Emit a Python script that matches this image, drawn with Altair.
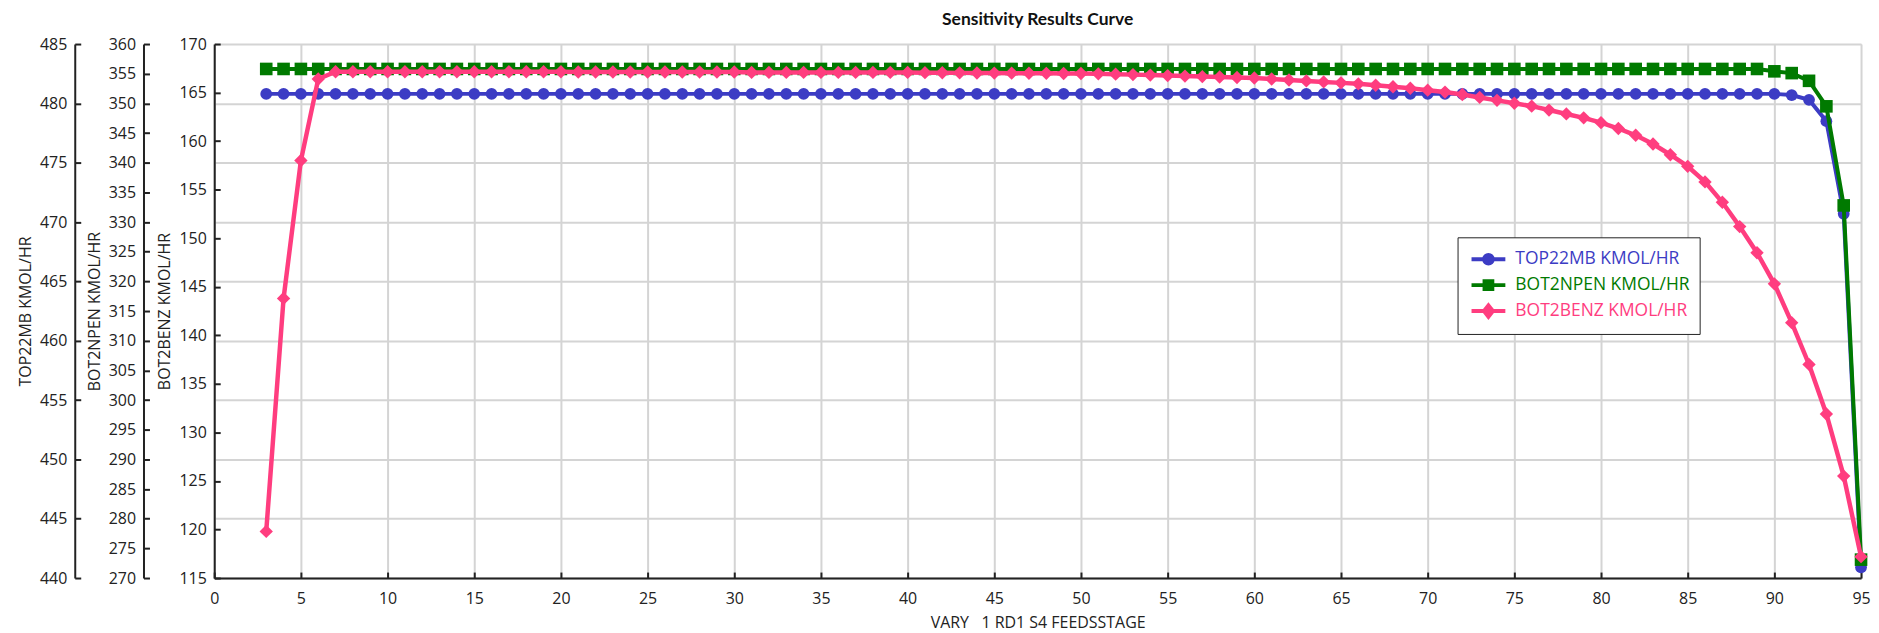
import altair as alt
import pandas as pd

# ---------------- data ----------------
stages = list(range(3, 96))

top22mb = [
    480.8, 480.8, 480.8, 480.8, 480.8, 480.8, 480.8, 480.8, 480.8, 480.8,   # 3-12
    480.8, 480.8, 480.8, 480.8, 480.8, 480.8, 480.8, 480.8, 480.8, 480.8,   # 13-22
    480.8, 480.8, 480.8, 480.8, 480.8, 480.8, 480.8, 480.8, 480.8, 480.8,   # 23-32
    480.8, 480.8, 480.8, 480.8, 480.8, 480.8, 480.8, 480.8, 480.8, 480.8,   # 33-42
    480.8, 480.8, 480.8, 480.8, 480.8, 480.8, 480.8, 480.8, 480.8, 480.8,   # 43-52
    480.8, 480.8, 480.8, 480.8, 480.8, 480.8, 480.8, 480.8, 480.8, 480.8,   # 53-62
    480.8, 480.8, 480.8, 480.8, 480.8, 480.8, 480.8, 480.8, 480.8, 480.8,   # 63-72
    480.8, 480.8, 480.8, 480.8, 480.8, 480.8, 480.8, 480.8, 480.8, 480.8,   # 73-82
    480.8, 480.8, 480.8, 480.8, 480.8, 480.8, 480.8, 480.8,                 # 83-90
    480.7, 480.3, 478.5, 470.7, 440.9,                                      # 91-95
]

bot2npen = [
    355.8, 355.8, 355.8, 355.8, 355.8, 355.8, 355.8, 355.8, 355.8, 355.8,   # 3-12
    355.8, 355.8, 355.8, 355.8, 355.8, 355.8, 355.8, 355.8, 355.8, 355.8,   # 13-22
    355.8, 355.8, 355.8, 355.8, 355.8, 355.8, 355.8, 355.8, 355.8, 355.8,   # 23-32
    355.8, 355.8, 355.8, 355.8, 355.8, 355.8, 355.8, 355.8, 355.8, 355.8,   # 33-42
    355.8, 355.8, 355.8, 355.8, 355.8, 355.8, 355.8, 355.8, 355.8, 355.8,   # 43-52
    355.8, 355.8, 355.8, 355.8, 355.8, 355.8, 355.8, 355.8, 355.8, 355.8,   # 53-62
    355.8, 355.8, 355.8, 355.8, 355.8, 355.8, 355.8, 355.8, 355.8, 355.8,   # 63-72
    355.8, 355.8, 355.8, 355.8, 355.8, 355.8, 355.8, 355.8, 355.8, 355.8,   # 73-82
    355.8, 355.8, 355.8, 355.8, 355.8, 355.8, 355.8,                        # 83-89
    355.4, 355.1, 353.8, 349.5, 332.8, 273.1,                               # 90-95
]

bot2benz = [
    119.8, 143.8, 158.0, 166.4,                                             # 3-6
    167.15, 167.15, 167.15, 167.15, 167.15, 167.15, 167.15,                 # 7-13
    167.15, 167.15, 167.15, 167.15, 167.15, 167.15, 167.15,                 # 14-20
    167.12, 167.12, 167.12, 167.12, 167.12, 167.12, 167.12, 167.12, 167.12, 167.12,  # 21-30
    167.08, 167.08, 167.08, 167.08, 167.08, 167.08, 167.08, 167.08, 167.08, 167.08,  # 31-40
    167.05, 167.04, 167.03, 167.02, 167.01, 167.00, 166.99, 166.98, 166.97,          # 41-49
    166.96, 166.93, 166.90, 166.85, 166.80, 166.75, 166.70, 166.65, 166.60, 166.55,  # 50-59
    166.50, 166.40, 166.30, 166.20, 166.10, 166.00, 165.90, 165.75, 165.60, 165.45,  # 60-69
    165.25, 165.05, 164.80, 164.50, 164.20, 163.90, 163.60, 163.20, 162.80, 162.40,  # 70-79
    161.90, 161.30, 160.60, 159.70, 158.60, 157.40, 155.80, 153.70, 151.20, 148.50,  # 80-89
    145.30, 141.30, 137.00, 131.90, 125.50, 117.20,                                  # 90-95
]

series_names = ["TOP22MB KMOL/HR", "BOT2NPEN KMOL/HR", "BOT2BENZ KMOL/HR"]
series_colors = ["#3c3cc4", "#007a00", "#ff3d7f"]
series_shapes = ["circle", "square", "diamond"]
# legend glyphs: a short line with the series marker on it (unit -1..1 box)
legend_glyphs = [
    "M-1.55,0H1.55M-0.39,0A0.39,0.39,0,1,1,0.39,0A0.39,0.39,0,1,1,-0.39,0Z",
    "M-1.55,0H1.55M-0.355,-0.355H0.355V0.355H-0.355Z",
    "M-1.55,0H1.55M0,-0.52L0.41,0L0,0.52L-0.41,0Z",
]

x_ticks = list(range(0, 100, 5))
top_ticks = list(range(440, 490, 5))
npen_ticks = list(range(270, 365, 5))
benz_ticks = list(range(115, 175, 5))

FONT = "Open Sans"
TXT = "#222222"

color_scale = alt.Scale(domain=series_names, range=series_colors)


def by_label(values):
    return (
        f"datum.label == '{series_names[0]}' ? '{values[0]}' : "
        f"datum.label == '{series_names[1]}' ? '{values[1]}' : '{values[2]}'"
    )


legend = alt.Legend(
    title=None,
    orient="none",
    legendX=1248,
    legendY=194,
    direction="vertical",
    strokeColor="#222222",
    fillColor="white",
    padding=9,
    labelFont=FONT,
    labelFontSize=17.5,
    labelLimit=0,
    labelColor=alt.ExprRef(by_label(series_colors)),
    symbolType=alt.ExprRef(by_label(legend_glyphs)),
    symbolStrokeColor=alt.ExprRef(by_label(series_colors)),
    symbolFillColor=alt.ExprRef(by_label(series_colors)),
    symbolSize=480,
    symbolStrokeWidth=4,
    symbolOpacity=1,
    symbolOffset=9,
    rowPadding=0,
    labelOffset=14,
)

x_axis = alt.Axis(
    values=x_ticks,
    title="VARY\u00a0\u00a0\u00a01 RD1 S4 FEEDSSTAGE",
    grid=True,
    gridColor="#d4d4d4",
    gridWidth=2,
    domainColor="#222222",
    domainWidth=2,
    tickColor="#222222",
    tickWidth=2,
    tickSize=alt.ExprRef("-6"),
    labelPadding=19,
    labelFont=FONT,
    labelFontSize=16,
    labelColor=TXT,
    labelFlush=False,
    titleFont=FONT,
    titleFontSize=16,
    titleFontWeight="normal",
    titleColor=TXT,
    titlePadding=8,
)


def y_axis(title, ticks, offset, grid):
    return alt.Axis(
        orient="left",
        offset=offset,
        values=ticks,
        title=title,
        grid=grid,
        gridColor="#d4d4d4",
        gridWidth=2,
        domainColor="#222222",
        domainWidth=2,
        tickColor="#222222",
        tickWidth=2,
        tickSize=alt.ExprRef("-6"),
        labelPadding=14,
        labelFont=FONT,
        labelFontSize=16,
        labelColor=TXT,
        labelFlush=False,
        titleFont=FONT,
        titleFontSize=16,
        titleFontWeight="normal",
        titleColor=TXT,
        titlePadding=6,
    )


def layer(values, name, shape, domain, ticks, offset, grid, stroke_width, size):
    df = pd.DataFrame({"stage": stages, "value": values, "series": name})
    return alt.Chart(df).mark_line(
        strokeWidth=stroke_width,
        point=alt.OverlayMarkDef(filled=True, size=size, opacity=1, shape=shape),
    ).encode(
        x=alt.X("stage:Q", scale=alt.Scale(domain=[0, 95], nice=False, zero=False), axis=x_axis),
        y=alt.Y("value:Q", scale=alt.Scale(domain=domain, nice=False, zero=False),
                axis=y_axis(name, ticks, offset, grid)),
        color=alt.Color("series:N", scale=color_scale, legend=legend),
    )


l_top = layer(top22mb, series_names[0], series_shapes[0], [440, 485], top_ticks, 140, True, 4, 140)
l_npen = layer(bot2npen, series_names[1], series_shapes[1], [270, 360], npen_ticks, 71, False, 4, 160)
l_benz = layer(bot2benz, series_names[2], series_shapes[2], [115, 170], benz_ticks, 0, False, 4.5, 180)

chart = alt.layer(l_top, l_npen, l_benz).resolve_scale(
    y="independent"
).properties(
    width=1653,
    height=536,
    padding={"left": 9, "top": 1, "right": 0, "bottom": 0},
    title=alt.TitleParams(
        "Sensitivity Results Curve",
        font="Lato",
        fontSize=17.5,
        fontWeight="bold",
        color="#111111",
        anchor="middle",
        frame="group",
        offset=8,
    ),
).configure_view(
    stroke=None
).configure(
    background="white"
)

chart.save("out.html", embed_options={"renderer": "svg", "actions": False})
